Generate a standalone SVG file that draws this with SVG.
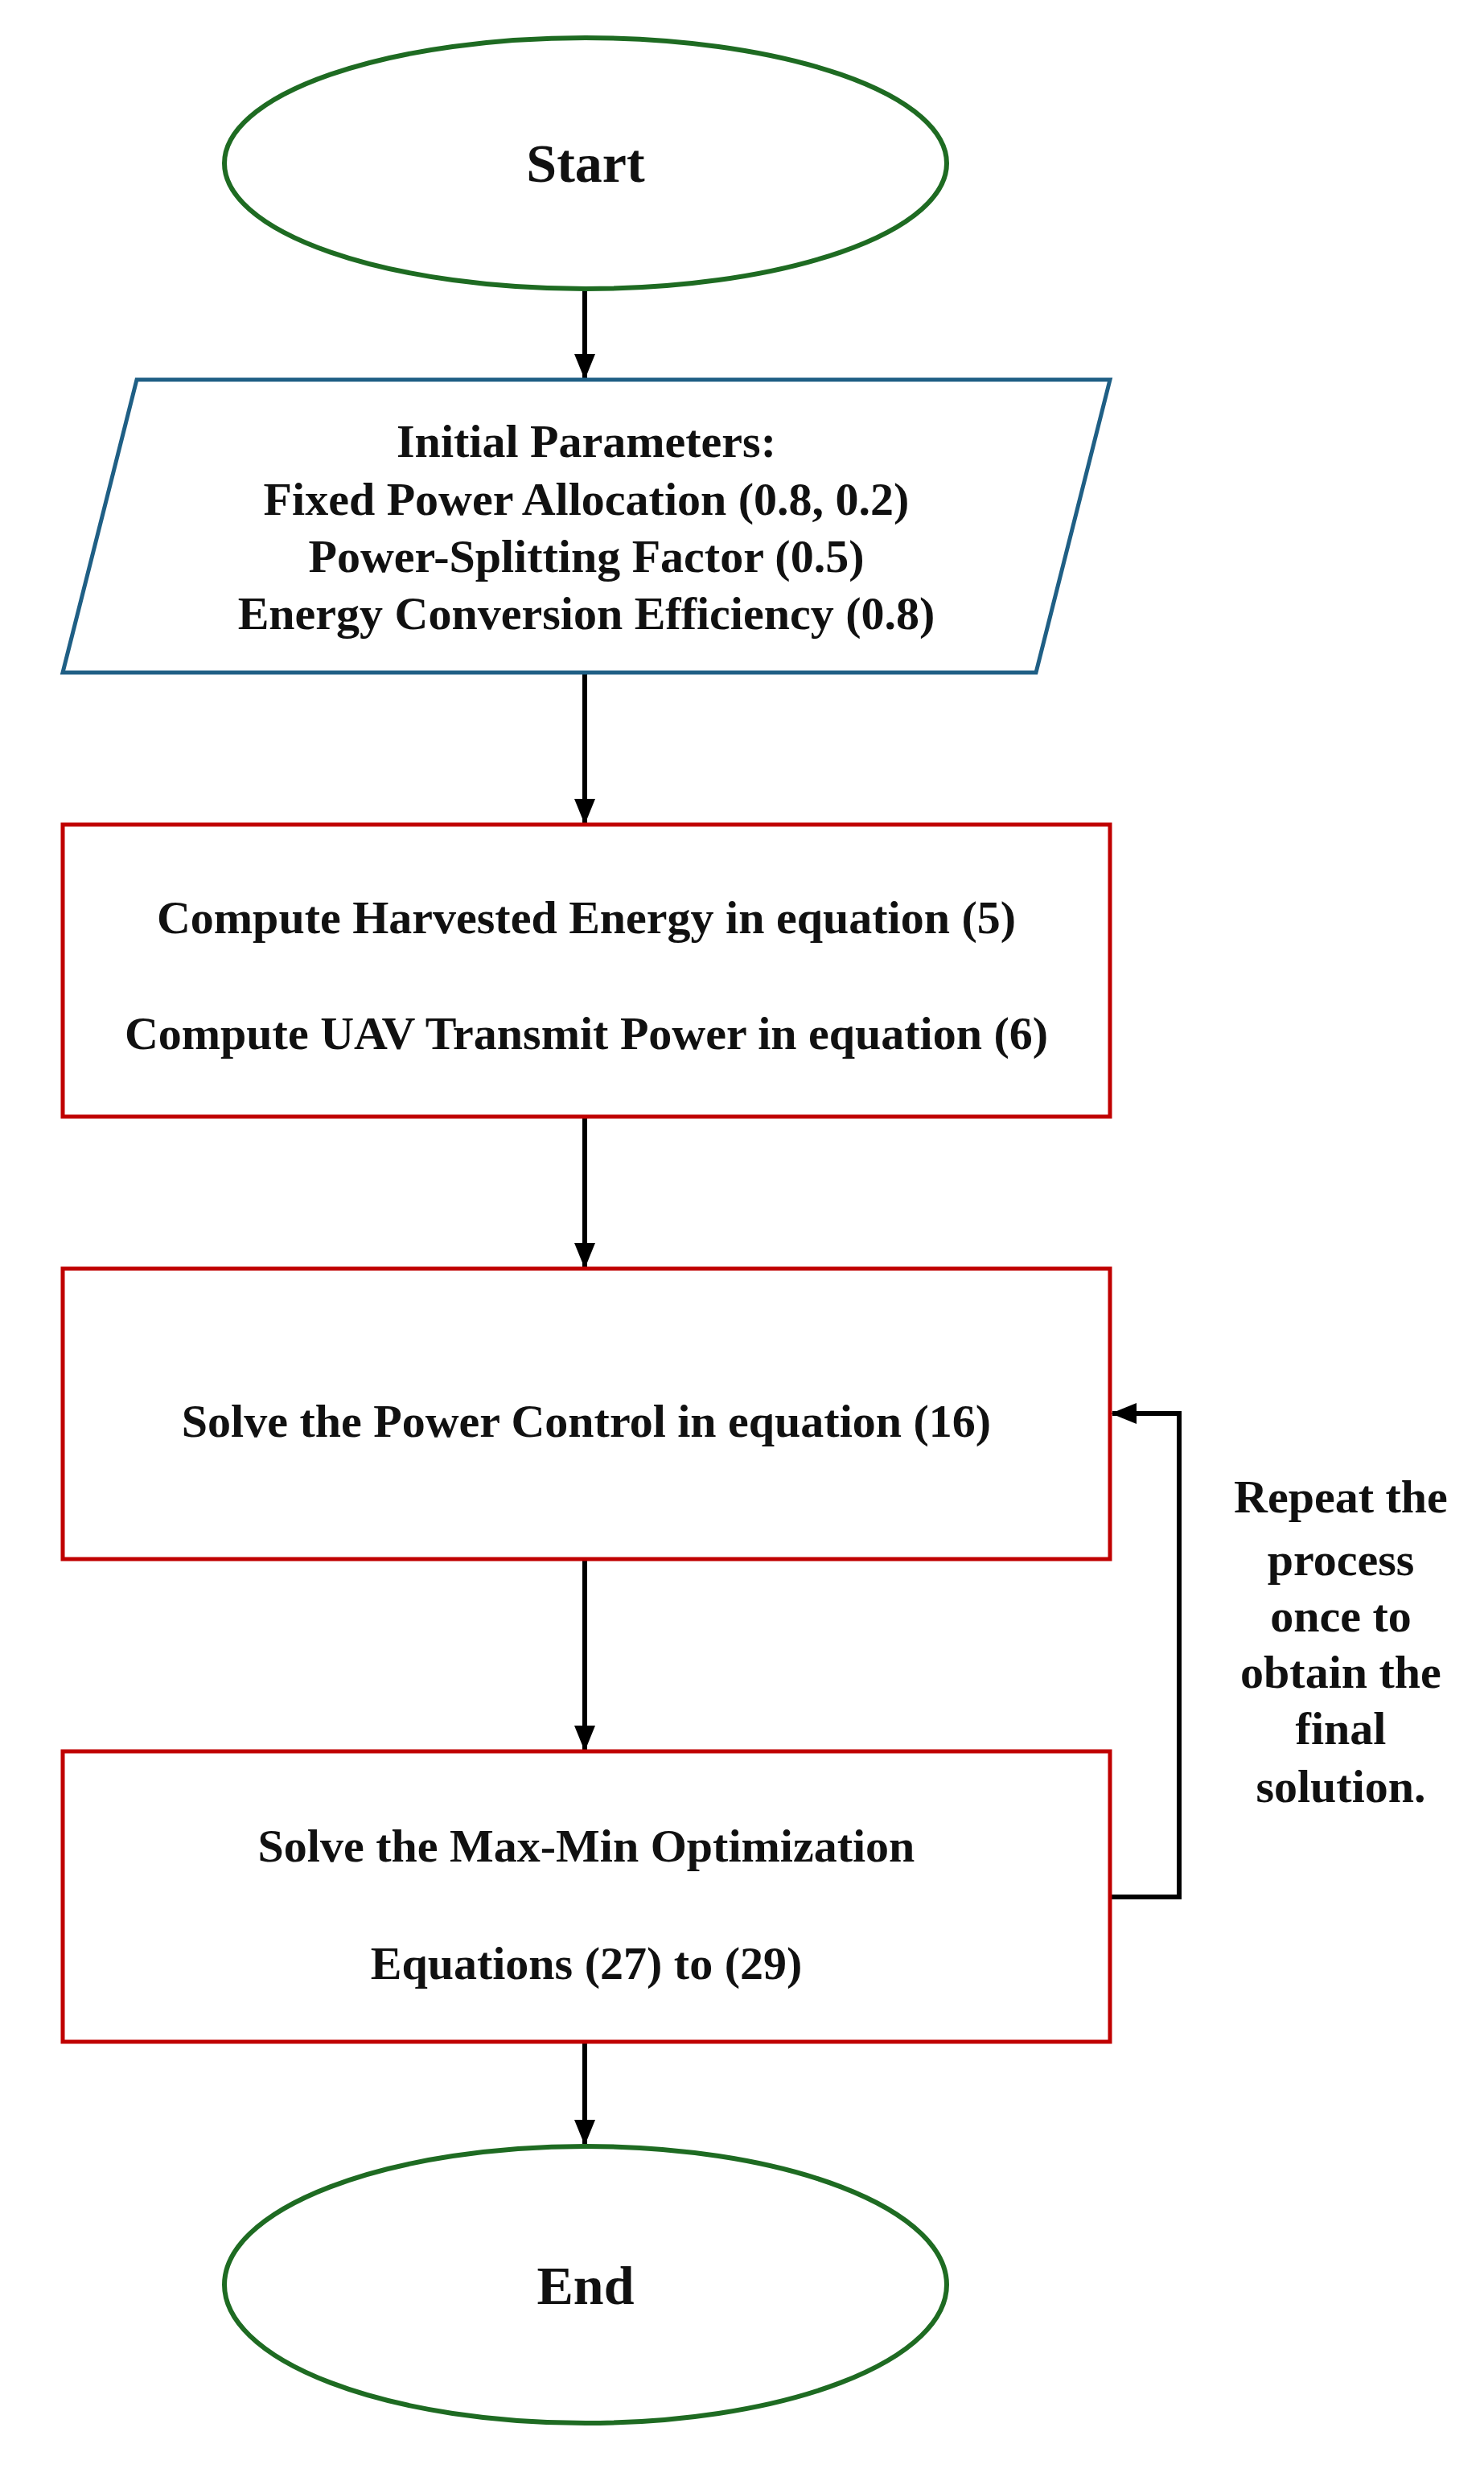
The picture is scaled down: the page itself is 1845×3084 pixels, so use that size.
<svg xmlns="http://www.w3.org/2000/svg" width="1845" height="3084" viewBox="0 0 1845 3084">
<defs>
<style>
text{font-family:"Liberation Serif","Times New Roman",serif;font-weight:bold;fill:#111;text-anchor:middle}
.t{font-size:58px}
.big{font-size:68px}
.term{fill:#fff;stroke:#1e6b22;stroke-width:6}
.proc{fill:#fff;stroke:#c00000;stroke-width:5}
.io{fill:#fff;stroke:#1f5f85;stroke-width:5}
.c{stroke:#000;stroke-width:6;fill:none}
</style>
<marker id="a" markerWidth="34" markerHeight="30" refX="30" refY="13" orient="auto" markerUnits="userSpaceOnUse"><path d="M0,0 L32,13 L0,26 z" fill="#000"/></marker>
</defs>
<rect width="1845" height="3084" fill="#fff"/>
<g id="connectors">
<line class="c" x1="727" y1="360" x2="727" y2="470" marker-end="url(#a)"/>
<line class="c" x1="727" y1="836" x2="727" y2="1023" marker-end="url(#a)"/>
<line class="c" x1="727" y1="1388" x2="727" y2="1575" marker-end="url(#a)"/>
<line class="c" x1="727" y1="1938" x2="727" y2="2175" marker-end="url(#a)"/>
<line class="c" x1="727" y1="2538" x2="727" y2="2665" marker-end="url(#a)"/>
<polyline class="c" points="1380,2358 1466,2358 1466,1757 1383,1757" marker-end="url(#a)"/>
</g>
<g id="start"><ellipse class="term" cx="728" cy="203" rx="449" ry="156"/><text class="big" x="728" y="226">Start</text></g>
<g id="params"><polygon class="io" points="170,472 1380,472 1288,836 78,836"/>
<text class="t" x="729" y="568">Initial Parameters:</text>
<text class="t" x="729" y="640">Fixed Power Allocation (0.8, 0.2)</text>
<text class="t" x="729" y="711">Power-Splitting Factor (0.5)</text>
<text class="t" x="729" y="782">Energy Conversion Efficiency (0.8)</text></g>
<g id="compute"><rect class="proc" x="78" y="1025" width="1302" height="363"/>
<text class="t" x="729" y="1160">Compute Harvested Energy in equation  (5)</text>
<text class="t" x="729" y="1304">Compute UAV Transmit Power in equation (6)</text></g>
<g id="power"><rect class="proc" x="78" y="1577" width="1302" height="361"/>
<text class="t" x="729" y="1786">Solve the Power Control in equation (16)</text></g>
<g id="maxmin"><rect class="proc" x="78" y="2177" width="1302" height="361"/>
<text class="t" x="729" y="2314">Solve the Max-Min Optimization</text>
<text class="t" x="729" y="2460">Equations (27) to (29)</text></g>
<g id="end"><ellipse class="term" cx="728" cy="2840" rx="449" ry="172"/><text class="big" x="728" y="2864">End</text></g>
<g id="note">
<text class="t" x="1667" y="1880">Repeat the</text>
<text class="t" x="1667" y="1958">process</text>
<text class="t" x="1667" y="2028">once to</text>
<text class="t" x="1667" y="2098">obtain the</text>
<text class="t" x="1667" y="2168">final</text>
<text class="t" x="1667" y="2240">solution.</text>
</g>
</svg>
